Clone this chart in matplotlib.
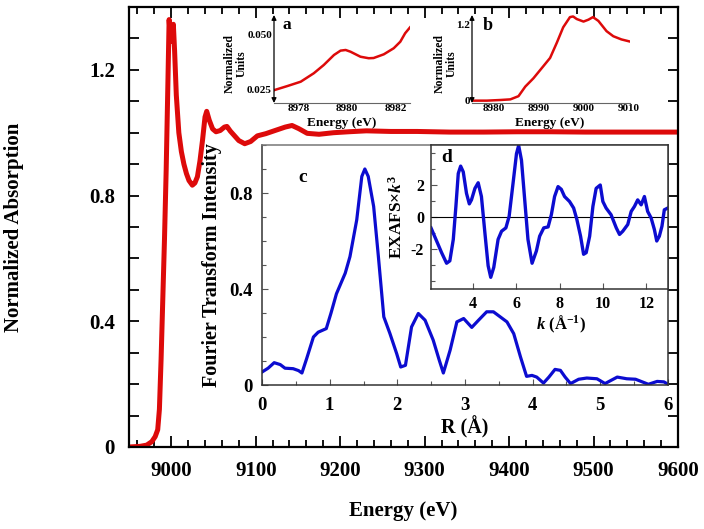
import matplotlib
matplotlib.use("Agg")
import matplotlib.pyplot as plt
from matplotlib.ticker import MultipleLocator

plt.rcParams['font.family'] = ['Liberation Serif', 'DejaVu Serif']
plt.rcParams['font.weight'] = 'bold'
plt.rcParams['axes.unicode_minus'] = False
plt.rcParams['mathtext.fontset'] = 'custom'
plt.rcParams['mathtext.rm'] = 'Liberation Serif:bold'
plt.rcParams['mathtext.it'] = 'Liberation Serif:italic:bold'
plt.rcParams['mathtext.bf'] = 'Liberation Serif:bold'

# ---------------- data ----------------
# main XAS spectrum
energy_main = [8950, 8963, 8971, 8977, 8981, 8984, 8986, 8988, 8990, 8992, 8994, 8996,
               8997.5, 8999.3, 9001, 9002.5, 9004, 9006, 9009, 9012, 9015, 9018, 9021,
               9025, 9028, 9031, 9034, 9037, 9040, 9042, 9045, 9049, 9053, 9058, 9063,
               9066, 9070, 9075, 9080, 9087, 9094, 9102, 9112, 9124, 9135, 9143, 9151,
               9161, 9175, 9192, 9210, 9231, 9260, 9291, 9330, 9370, 9410, 9450, 9490,
               9530, 9570, 9600]
absorb_main = [0.0, 0.002, 0.006, 0.017, 0.033, 0.055, 0.12, 0.28, 0.47, 0.66, 0.88, 1.15,
               1.36, 1.29, 1.33, 1.345, 1.26, 1.12, 1.0, 0.94, 0.90, 0.87, 0.848,
               0.833, 0.84, 0.86, 0.91, 0.975, 1.05, 1.068, 1.04, 1.012, 1.003, 1.007, 1.018,
               1.02, 1.005, 0.99, 0.975, 0.965, 0.972, 0.99, 0.997, 1.008, 1.018, 1.023, 1.013,
               0.998, 0.995, 1.0, 1.003, 1.006, 1.004, 1.004, 1.002, 1.002, 1.003, 1.003, 1.002,
               1.002, 1.002, 1.002]

# inset a: pre-edge
energy_a = [8977.03, 8977.55, 8978.1, 8978.64, 8979.05, 8979.47, 8979.74, 8979.95, 8980.15,
            8980.56, 8980.9, 8981.1, 8981.52, 8981.93, 8982.2, 8982.4, 8982.6]
norm_a = [0.0247, 0.0265, 0.0285, 0.0324, 0.0362, 0.0408, 0.0428, 0.0431, 0.0423,
          0.0400, 0.0393, 0.0394, 0.0411, 0.0439, 0.0469, 0.0508, 0.0535]

# inset b: edge region
energy_b = [8975.2, 8978.5, 8981.5, 8983.7, 8985.5, 8987, 8988.8, 8991, 8992.5, 8994,
            8995.4, 8996.9, 8997.6, 8998.4, 8999.9, 9001, 9002, 9003.2, 9005, 9006.5,
            9008.3, 9010]
norm_b = [0.0, 0.0, 0.01, 0.02, 0.07, 0.22, 0.35, 0.54, 0.67, 0.91,
          1.15, 1.31, 1.32, 1.28, 1.24, 1.27, 1.31, 1.25, 1.09, 1.01,
          0.96, 0.93]

# inset c: Fourier transform
r_c = [0, 0.09, 0.18, 0.27, 0.34, 0.46, 0.54, 0.59, 0.66, 0.76, 0.83, 0.95, 1.02, 1.10,
       1.23, 1.30, 1.40, 1.475, 1.52, 1.57, 1.65, 1.72, 1.80, 1.89, 1.99, 2.05, 2.12,
       2.21, 2.31, 2.41, 2.53, 2.62, 2.68, 2.78, 2.88, 2.98, 3.10, 3.20, 3.32, 3.42,
       3.52, 3.62, 3.72, 3.82, 3.91, 3.99, 4.06, 4.16, 4.24, 4.33, 4.41, 4.48, 4.56,
       4.68, 4.80, 4.95, 5.07, 5.25, 5.39, 5.52, 5.62, 5.71, 5.84, 5.94, 6.0]
ft_c = [0.054, 0.07, 0.093, 0.085, 0.07, 0.068, 0.06, 0.05, 0.11, 0.20, 0.22, 0.235, 0.30,
        0.38, 0.466, 0.535, 0.688, 0.869, 0.90, 0.869, 0.744, 0.535, 0.284, 0.215, 0.131,
        0.075, 0.082, 0.242, 0.298, 0.27, 0.187, 0.103, 0.05, 0.145, 0.263, 0.277, 0.24,
        0.27, 0.305, 0.305, 0.284, 0.263, 0.214, 0.117, 0.036, 0.04, 0.033, 0.008, 0.033,
        0.065, 0.061, 0.033, 0.006, 0.024, 0.029, 0.026, 0.006, 0.033, 0.026, 0.024,
        0.013, 0.003, 0.015, 0.013, 0.003]

# inset d: EXAFS
k_d = [2.05, 2.31, 2.54, 2.77, 2.92, 3.08, 3.20, 3.31, 3.42, 3.54, 3.69, 3.82, 3.92, 4.08,
       4.23, 4.38, 4.54, 4.69, 4.81, 4.95, 5.15, 5.31, 5.51, 5.66, 5.84, 6.0, 6.10, 6.23,
       6.38, 6.53, 6.72, 6.92, 7.07, 7.26, 7.46, 7.61, 7.76, 7.92, 8.07, 8.22, 8.45,
       8.64, 8.79, 8.96, 9.10, 9.22, 9.38, 9.53, 9.68, 9.87, 9.99, 10.14, 10.37, 10.61,
       10.76, 10.91, 11.14, 11.30, 11.45, 11.60, 11.76, 11.91, 12.06, 12.22, 12.37,
       12.48, 12.60, 12.72, 12.83, 12.99]
chi_d = [-0.68, -1.5, -2.23, -2.89, -2.74, -1.40, 0.66, 2.72, 3.18, 2.82, 1.48, 0.82, 1.07,
         1.79, 2.14, 1.28, -0.99, -3.05, -3.77, -3.15, -1.40, -0.89, -0.68, 0.04, 2.10,
         3.96, 4.47, 3.55, 1.07, -1.40, -2.89, -2.12, -1.20, -0.68, -0.62, 0.14, 1.28,
         1.90, 1.73, 1.28, 0.97, 0.56, -0.16, -1.20, -2.33, -2.23, -1.20, 0.66, 1.79, 2.0,
         0.97, 0.56, 0.14, -0.68, -1.09, -0.89, -0.47, 0.35, 0.66, 1.07, 0.76, 1.28, 0.35,
         -0.06, -0.78, -1.5, -1.20, -0.58, 0.45, 0.56]

main_yticks = [0, 0.4, 0.8, 1.2]
main_yticklabels = ['0', '0.4', '0.8', '1.2']
c_yticks = [0, 0.4, 0.8]
c_yticklabels = ['0', '0.4', '0.8']
d_yticks = [-2, 0, 2]
d_yticklabels = ['-2', '0', '2']

RED = '#dd0a0a'
BLUE = '#0c0cd0'

W, H = 704, 529
fig = plt.figure(figsize=(W / 100, H / 100), dpi=100)


def box(left, top, right, bottom):
    return [left / W, 1 - bottom / H, (right - left) / W, (bottom - top) / H]


# ---------------- main axes ----------------
ax = fig.add_axes(box(129, 7, 678, 447))
ax.plot(energy_main, absorb_main, color=RED, lw=3.6, solid_joinstyle='round')
ax.set_xlim(8950, 9600)
ax.set_ylim(0, 1.4)
ax.xaxis.set_major_locator(MultipleLocator(100))
ax.xaxis.set_minor_locator(MultipleLocator(20))
ax.set_yticks(main_yticks, labels=main_yticklabels)
ax.yaxis.set_minor_locator(MultipleLocator(0.1))
ax.tick_params(which='both', direction='in', top=True, right=True, width=1.3,
               labelsize=15)
ax.tick_params(axis='x', which='major', length=8, pad=10)
ax.tick_params(axis='x', which='minor', length=5)
ax.tick_params(axis='y', which='both', length=7)
ax.tick_params(axis='y', which='major', pad=10)
for s in ax.spines.values():
    s.set_linewidth(1.6)
ax.set_xlabel('Energy (eV)', fontsize=15, fontweight='bold')
ax.xaxis.label.set_va('center')
ax.xaxis.set_label_coords(0.5, (447 - 511) / 440)
ax.set_ylabel('Normalized Absorption', fontsize=15, fontweight='bold')
ax.yaxis.label.set_va('center')
ax.yaxis.set_label_coords((14 - 129) / 549, 0.5)

# ---------------- inset c (FT) ----------------
axc = fig.add_axes(box(262, 145, 668, 385))
axc.plot(r_c, ft_c, color=BLUE, lw=2.3)
axc.set_xlim(0, 6)
axc.set_ylim(0, 1.0)
axc.xaxis.set_major_locator(MultipleLocator(1))
axc.xaxis.set_minor_locator(MultipleLocator(0.5))
axc.set_yticks(c_yticks, labels=c_yticklabels)
axc.yaxis.set_minor_locator(MultipleLocator(0.1))
axc.tick_params(which='both', direction='in', width=0.8, labelsize=13.5,
                colors='#555555', labelcolor='black')
axc.tick_params(which='major', length=4)
axc.tick_params(which='minor', length=3)
axc.tick_params(axis='x', pad=9)
axc.tick_params(axis='y', pad=7)
for s in axc.spines.values():
    s.set_linewidth(1.1)
    s.set_color('#333333')
axc.spines['top'].set_color('#777777')
axc.set_xlabel('R (Å)', fontsize=14.5, fontweight='bold')
axc.xaxis.label.set_va('center')
axc.xaxis.set_label_coords(0.5, (385 - 427) / 240)
axc.set_ylabel('Fourier Transform Intensity', fontsize=14.5, fontweight='bold')
axc.yaxis.label.set_va('center')
axc.yaxis.set_label_coords((212 - 262) / 406, 0.5)

# ---------------- inset d (EXAFS) ----------------
axd = fig.add_axes(box(431, 145, 668, 289))
axd.axhline(0, color='black', lw=0.8)
axd.plot(k_d, chi_d, color=BLUE, lw=2.4)
axd.set_xlim(2.05, 13.0)
axd.set_ylim(-4.5, 4.5)
axd.set_xticks([4, 6, 8, 10, 12])
axd.set_yticks(d_yticks, labels=d_yticklabels)
axd.yaxis.set_minor_locator(MultipleLocator(1))
axd.tick_params(which='both', direction='in', width=0.8, labelsize=11.5,
                colors='#555555', labelcolor='black')
axd.tick_params(which='major', length=4)
axd.tick_params(which='minor', length=3)
axd.tick_params(axis='x', pad=5)
axd.tick_params(axis='y', pad=5)
for s in axd.spines.values():
    s.set_linewidth(1.1)
    s.set_color('#333333')
axd.set_xlabel('$k$ (Å$^{-1}$)', fontsize=12, fontweight='bold')
axd.xaxis.label.set_va('center')
axd.xaxis.set_label_coords((561 - 431) / 237, (289 - 324) / 144)
axd.set_ylabel('EXAFS×$k^3$', fontsize=12.5, fontweight='bold')
axd.yaxis.label.set_va('center')
axd.yaxis.set_label_coords((397 - 431) / 237, (289 - 217) / 144)


# ---------------- insets a and b ----------------
def small_inset(rect, x, y, xlim, ylim, xticks, yticks, ylabels, xlabel_c, ylabel_c):
    a = fig.add_axes(rect)
    a.patch.set_alpha(0)
    a.plot(x, y, color=RED, lw=1.8)
    a.set_xlim(*xlim)
    a.set_ylim(*ylim)
    a.set_xticks(xticks)
    a.set_yticks(yticks, labels=ylabels)
    a.tick_params(length=0, labelsize=8, pad=1.5)
    a.tick_params(axis='x', pad=0.5)
    for side in ('top', 'right', 'left'):
        a.spines[side].set_visible(False)
    a.spines['bottom'].set_color('#666666')
    a.spines['bottom'].set_linewidth(0.8)
    a.annotate('', xy=(0, 1), xytext=(0, 0), xycoords='axes fraction',
               textcoords='axes fraction', annotation_clip=False,
               arrowprops=dict(arrowstyle='<|-|>', color='black', lw=0.9,
                               mutation_scale=7, shrinkA=0, shrinkB=0))
    a.set_xlabel('Energy (eV)', fontsize=9.5, fontweight='bold')
    a.xaxis.label.set_va('center')
    a.xaxis.set_label_coords(*xlabel_c)
    a.set_ylabel('Normalized\nUnits', fontsize=8.5, fontweight='bold', linespacing=1.0)
    a.yaxis.label.set_va('center')
    a.yaxis.set_label_coords(*ylabel_c)
    return a


axa = small_inset(box(274, 15, 410, 103), energy_a, norm_a,
                  (8977, 8982.6), (0.0187, 0.0592), [8978, 8980, 8982],
                  [0.025, 0.050], ['0.025', '0.050'],
                  ((342 - 274) / 136, (103 - 123) / 88),
                  ((236 - 274) / 136, (103 - 63.3) / 88))
axb = small_inset(box(472, 15, 630, 103), energy_b, norm_b,
                  (8975.2, 9010.2), (-0.037, 1.343), [8980, 8990, 9000, 9010],
                  [0, 1.2], ['0', '1.2'],
                  ((550 - 472) / 158, (103 - 123) / 88),
                  ((446 - 472) / 158, (103 - 63.3) / 88))

# panel letters
for letter, (px, py), fs in [('a', (287, 25), 12.5), ('b', (488, 26), 13),
                             ('c', (303, 177), 14), ('d', (447, 158), 14)]:
    fig.text(px / W, 1 - py / H, letter, ha='center', va='center',
             fontsize=fs, fontweight='bold')

fig.savefig('out.png', dpi=100)
